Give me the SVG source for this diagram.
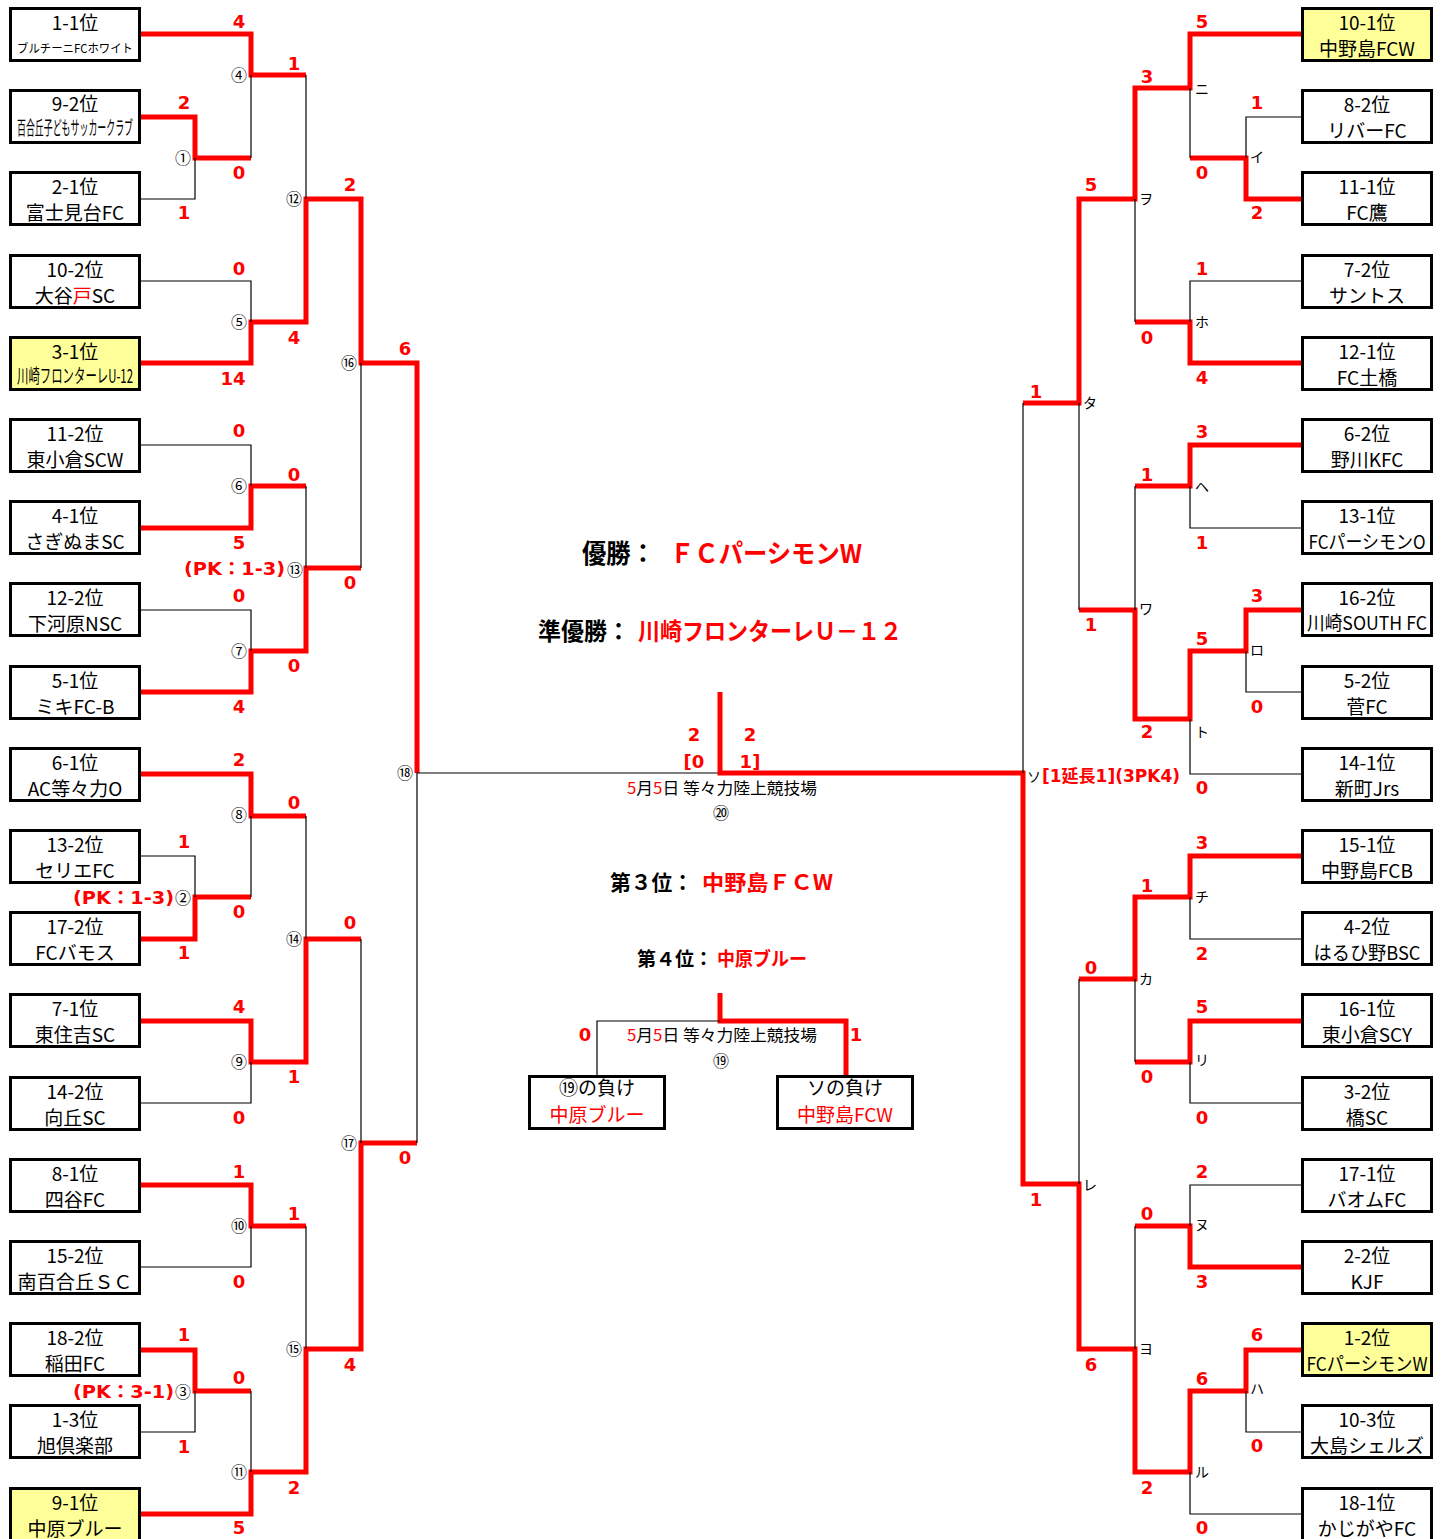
<svg xmlns="http://www.w3.org/2000/svg" width="1443" height="1539" viewBox="0 0 1443 1539">
<style>
.box{fill:#fff;stroke:#000;stroke-width:3}
.hl{fill:#FFFF99}
.t{font-family:"Noto Sans CJK JP","Noto Sans",sans-serif;font-size:19px;text-anchor:middle;fill:#000}
.s{font-size:12px}
.r{fill:#f00}
.red{fill:none;stroke:#f00;stroke-width:5;stroke-linejoin:miter}
.blk{fill:none;stroke:#000;stroke-width:1.2}
.sc{font-family:"DejaVu Sans","Noto Sans CJK JP",sans-serif;font-weight:bold;font-size:18px;fill:#f00;text-anchor:middle}
.pk{font-family:"DejaVu Sans","Noto Sans CJK JP",sans-serif;font-weight:bold;font-size:18px;fill:#f00}
.cn{font-family:"Noto Sans CJK JP",sans-serif;font-size:16px;fill:#000;text-anchor:end}
.kt{font-family:"Noto Sans CJK JP",sans-serif;font-size:14px;fill:#000}
.ttl{font-family:"Noto Sans CJK JP",sans-serif;font-weight:bold}
.ven{font-family:"Noto Sans CJK JP",sans-serif;font-size:16px;text-anchor:middle;fill:#000}
</style>

<g id="connectors">
<path class="red" d="M140,34 H251 V75 H306"/>
<path class="red" d="M140,117 H195 V158 H251"/>
<path class="red" d="M140,363 H251 V322 H306 V199 H361 V363 H417 V773"/>
<path class="red" d="M140,528 H251 V486 H306"/>
<path class="red" d="M140,692 H251 V651 H306 V568 H361"/>
<path class="red" d="M140,774 H251 V816 H306"/>
<path class="red" d="M140,939 H195 V897 H251"/>
<path class="red" d="M140,1021 H251 V1062 H306 V939 H361"/>
<path class="red" d="M140,1185 H251 V1226 H306"/>
<path class="red" d="M140,1350 H195 V1391 H251"/>
<path class="red" d="M140,1514 H251 V1472 H306 V1349 H361 V1143 H417"/>
<path class="blk" d="M140,199 H195 V158"/>
<path class="blk" d="M251,75 V158"/>
<path class="blk" d="M140,281 H251 V322"/>
<path class="blk" d="M306,75 V199"/>
<path class="blk" d="M140,445 H251 V486"/>
<path class="blk" d="M140,610 H251 V651"/>
<path class="blk" d="M306,486 V568"/>
<path class="blk" d="M361,363 V568"/>
<path class="blk" d="M140,856 H195 V897"/>
<path class="blk" d="M251,816 V897"/>
<path class="blk" d="M140,1103 H251 V1062"/>
<path class="blk" d="M306,816 V939"/>
<path class="blk" d="M140,1267 H251 V1226"/>
<path class="blk" d="M140,1432 H195 V1391"/>
<path class="blk" d="M251,1391 V1472"/>
<path class="blk" d="M306,1226 V1349"/>
<path class="blk" d="M361,939 V1143"/>
<path class="blk" d="M417,1143 V773 H720"/>
<path class="red" d="M1302,34 H1190 V88 H1135 V199 H1079 V403 H1023"/>
<path class="red" d="M1302,199 H1246 V158 H1190"/>
<path class="red" d="M1302,363 H1190 V322 H1135"/>
<path class="red" d="M1302,445 H1190 V486 H1135"/>
<path class="red" d="M1302,610 H1246 V651 H1190 V719 H1135 V610 H1079"/>
<path class="red" d="M1302,856 H1190 V897 H1135 V979 H1079"/>
<path class="red" d="M1302,1021 H1190 V1062 H1135"/>
<path class="red" d="M1302,1267 H1190 V1226 H1135"/>
<path class="red" d="M1302,1350 H1246 V1391 H1190 V1472 H1135 V1349 H1079 V1184 H1023 V773 H720 V692"/>
<path class="blk" d="M1302,117 H1246 V158"/>
<path class="blk" d="M1190,88 V158"/>
<path class="blk" d="M1302,281 H1190 V322"/>
<path class="blk" d="M1135,199 V322"/>
<path class="blk" d="M1302,528 H1190 V486"/>
<path class="blk" d="M1302,692 H1246 V651"/>
<path class="blk" d="M1302,774 H1190 V719"/>
<path class="blk" d="M1135,486 V610"/>
<path class="blk" d="M1079,403 V610"/>
<path class="blk" d="M1302,939 H1190 V897"/>
<path class="blk" d="M1302,1103 H1190 V1062"/>
<path class="blk" d="M1135,979 V1062"/>
<path class="blk" d="M1302,1185 H1190 V1226"/>
<path class="blk" d="M1302,1432 H1246 V1391"/>
<path class="blk" d="M1302,1514 H1190 V1472"/>
<path class="blk" d="M1135,1226 V1349"/>
<path class="blk" d="M1079,979 V1184"/>
<path class="blk" d="M1023,403 V773"/>
<path class="red" d="M720,993 V1021 H846 V1075"/>
<path class="blk" d="M720,1021 H597 V1075"/>
</g>

<g id="scores">
<text class="sc" x="239" y="28">4</text>
<text class="sc" x="294" y="70">1</text>
<text class="sc" x="184" y="109">2</text>
<text class="sc" x="239" y="179">0</text>
<text class="sc" x="184" y="219">1</text>
<text class="sc" x="350" y="191">2</text>
<text class="sc" x="239" y="275">0</text>
<text class="sc" x="294" y="344">4</text>
<text class="sc" x="233" y="385">14</text>
<text class="sc" x="405" y="355">6</text>
<text class="sc" x="239" y="437">0</text>
<text class="sc" x="294" y="481">0</text>
<text class="sc" x="239" y="549">5</text>
<text class="sc" x="350" y="589">0</text>
<text class="sc" x="239" y="602">0</text>
<text class="sc" x="294" y="672">0</text>
<text class="sc" x="239" y="713">4</text>
<text class="sc" x="239" y="766">2</text>
<text class="sc" x="294" y="809">0</text>
<text class="sc" x="184" y="848">1</text>
<text class="sc" x="239" y="918">0</text>
<text class="sc" x="350" y="929">0</text>
<text class="sc" x="184" y="959">1</text>
<text class="sc" x="239" y="1013">4</text>
<text class="sc" x="294" y="1083">1</text>
<text class="sc" x="239" y="1124">0</text>
<text class="sc" x="405" y="1164">0</text>
<text class="sc" x="239" y="1178">1</text>
<text class="sc" x="294" y="1220">1</text>
<text class="sc" x="239" y="1288">0</text>
<text class="sc" x="184" y="1341">1</text>
<text class="sc" x="239" y="1384">0</text>
<text class="sc" x="350" y="1371">4</text>
<text class="sc" x="184" y="1453">1</text>
<text class="sc" x="294" y="1494">2</text>
<text class="sc" x="239" y="1534">5</text>

<text class="sc" x="1202" y="28">5</text>
<text class="sc" x="1147" y="83">3</text>
<text class="sc" x="1257" y="109">1</text>
<text class="sc" x="1202" y="179">0</text>
<text class="sc" x="1091" y="191">5</text>
<text class="sc" x="1257" y="219">2</text>
<text class="sc" x="1202" y="275">1</text>
<text class="sc" x="1147" y="344">0</text>
<text class="sc" x="1202" y="384">4</text>
<text class="sc" x="1036" y="398">1</text>
<text class="sc" x="1202" y="438">3</text>
<text class="sc" x="1147" y="481">1</text>
<text class="sc" x="1202" y="549">1</text>
<text class="sc" x="1257" y="602">3</text>
<text class="sc" x="1091" y="631">1</text>
<text class="sc" x="1202" y="645">5</text>
<text class="sc" x="1257" y="713">0</text>
<text class="sc" x="1147" y="738">2</text>
<text class="sc" x="1202" y="794">0</text>
<text class="sc" x="1202" y="849">3</text>
<text class="sc" x="1147" y="892">1</text>
<text class="sc" x="1202" y="960">2</text>
<text class="sc" x="1091" y="974">0</text>
<text class="sc" x="1202" y="1013">5</text>
<text class="sc" x="1147" y="1083">0</text>
<text class="sc" x="1202" y="1124">0</text>
<text class="sc" x="1202" y="1178">2</text>
<text class="sc" x="1036" y="1206">1</text>
<text class="sc" x="1147" y="1220">0</text>
<text class="sc" x="1202" y="1288">3</text>
<text class="sc" x="1257" y="1341">6</text>
<text class="sc" x="1091" y="1371">6</text>
<text class="sc" x="1202" y="1385">6</text>
<text class="sc" x="1257" y="1452">0</text>
<text class="sc" x="1147" y="1494">2</text>
<text class="sc" x="1202" y="1534">0</text>

<text class="sc" x="694" y="741">2</text>
<text class="sc" x="694" y="768">[0</text>
<text class="sc" x="750" y="741">2</text>
<text class="sc" x="750" y="768">1]</text>
<text class="sc" x="585" y="1041">0</text>
<text class="sc" x="856" y="1041">1</text>

<text class="pk" x="184" y="575" textLength="101" lengthAdjust="spacingAndGlyphs">(PK：1-3)</text>
<text class="pk" x="73" y="904" textLength="101" lengthAdjust="spacingAndGlyphs">(PK：1-3)</text>
<text class="pk" x="73" y="1398" textLength="101" lengthAdjust="spacingAndGlyphs">(PK：3-1)</text>
</g>

<g id="match-labels">
<text class="cn" x="191" y="164">①</text>
<text class="cn" x="247" y="81">④</text>
<text class="cn" x="247" y="328">⑤</text>
<text class="cn" x="302" y="205">⑫</text>
<text class="cn" x="247" y="492">⑥</text>
<text class="cn" x="247" y="657">⑦</text>
<text class="cn" x="303" y="576">⑬</text>
<text class="cn" x="357" y="369">⑯</text>
<text class="cn" x="413" y="779">⑱</text>
<text class="cn" x="247" y="821">⑧</text>
<text class="cn" x="191" y="904">②</text>
<text class="cn" x="247" y="1068">⑨</text>
<text class="cn" x="302" y="945">⑭</text>
<text class="cn" x="357" y="1149">⑰</text>
<text class="cn" x="247" y="1232">⑩</text>
<text class="cn" x="191" y="1398">③</text>
<text class="cn" x="247" y="1478">⑪</text>
<text class="cn" x="302" y="1355">⑮</text>

<text class="kt" x="1195" y="94">ニ</text>
<text class="kt" x="1250" y="162">イ</text>
<text class="kt" x="1139" y="204">ヲ</text>
<text class="kt" x="1195" y="327">ホ</text>
<text class="kt" x="1083" y="408">タ</text>
<text class="kt" x="1195" y="492">ヘ</text>
<text class="kt" x="1139" y="614">ワ</text>
<text class="kt" x="1250" y="655">ロ</text>
<text class="kt" x="1195" y="737">ト</text>
<text class="kt" x="1195" y="902">チ</text>
<text class="kt" x="1139" y="984">カ</text>
<text class="kt" x="1195" y="1065">リ</text>
<text class="kt" x="1083" y="1190">レ</text>
<text class="kt" x="1195" y="1230">ヌ</text>
<text class="kt" x="1139" y="1354">ヨ</text>
<text class="kt" x="1250" y="1394">ハ</text>
<text class="kt" x="1195" y="1477">ル</text>
<text class="kt" x="1027" y="782">ソ</text>
<text x="1042" y="782" font-family="DejaVu Sans,Noto Sans CJK JP,sans-serif" font-weight="bold" font-size="17" fill="#f00" textLength="138" lengthAdjust="spacingAndGlyphs">[1延長1](3PK4)</text>

<text class="ven" x="722" y="794" textLength="190" lengthAdjust="spacingAndGlyphs"><tspan class="r">5</tspan>月<tspan class="r">5</tspan>日 等々力陸上競技場</text>
<text class="cn" x="729" y="819">⑳</text>
<text class="ven" x="722" y="1041" textLength="190" lengthAdjust="spacingAndGlyphs"><tspan class="r">5</tspan>月<tspan class="r">5</tspan>日 等々力陸上競技場</text>
<text class="cn" x="729" y="1067">⑲</text>
</g>

<g id="results">
<text class="ttl" x="582" y="563" font-size="26" textLength="73" lengthAdjust="spacingAndGlyphs">優勝：</text>
<text class="ttl r" x="670" y="563" font-size="26" textLength="192" lengthAdjust="spacingAndGlyphs">ＦＣパーシモンW</text>
<text class="ttl" x="538" y="640" font-size="24" textLength="92" lengthAdjust="spacingAndGlyphs">準優勝：</text>
<text class="ttl r" x="638" y="640" font-size="24" textLength="264" lengthAdjust="spacingAndGlyphs">川崎フロンターレＵ－１２</text>
<text class="ttl" x="610" y="890" font-size="21" textLength="83" lengthAdjust="spacingAndGlyphs">第３位：</text>
<text class="ttl r" x="702" y="890" font-size="21" textLength="131" lengthAdjust="spacingAndGlyphs">中野島ＦＣW</text>
<text class="ttl" x="637" y="966" font-size="19" textLength="76" lengthAdjust="spacingAndGlyphs">第４位：</text>
<text class="ttl r" x="717" y="966" font-size="19" textLength="90" lengthAdjust="spacingAndGlyphs">中原ブルー</text>
</g>

<g id="node-l0"><rect class="box" x="10.5" y="8.5" width="129" height="52"/><text class="t" x="75" y="30">1-1位</text><text class="t s" x="75" y="53" textLength="116" lengthAdjust="spacingAndGlyphs">ブルチーニFCホワイト</text></g>
<g id="node-l1"><rect class="box" x="10.5" y="90.5" width="129" height="52"/><text class="t" x="75" y="111">9-2位</text><text class="t" x="75" y="135" font-size="10" textLength="116" lengthAdjust="spacingAndGlyphs">百合丘子どもサッカークラブ</text></g>
<g id="node-l2"><rect class="box" x="10.5" y="172.5" width="129" height="52"/><text class="t" x="75" y="194">2-1位</text><text class="t" x="75" y="220">富士見台FC</text></g>
<g id="node-l3"><rect class="box" x="10.5" y="255.5" width="129" height="52"/><text class="t" x="75" y="277">10-2位</text><text class="t" x="75" y="303">大谷<tspan class="r">戸</tspan>SC</text></g>
<g id="node-l4"><rect class="box hl" x="10.5" y="337.5" width="129" height="52"/><text class="t" x="75" y="359">3-1位</text><text class="t" x="75" y="383" font-size="12.5" textLength="116" lengthAdjust="spacingAndGlyphs">川崎フロンターレU-12</text></g>
<g id="node-l5"><rect class="box" x="10.5" y="419.5" width="129" height="52"/><text class="t" x="75" y="441">11-2位</text><text class="t" x="75" y="467">東小倉SCW</text></g>
<g id="node-l6"><rect class="box" x="10.5" y="501.5" width="129" height="52"/><text class="t" x="75" y="523">4-1位</text><text class="t" x="75" y="549">さぎぬまSC</text></g>
<g id="node-l7"><rect class="box" x="10.5" y="583.5" width="129" height="52"/><text class="t" x="75" y="605">12-2位</text><text class="t" x="75" y="631">下河原NSC</text></g>
<g id="node-l8"><rect class="box" x="10.5" y="666.5" width="129" height="52"/><text class="t" x="75" y="688">5-1位</text><text class="t" x="75" y="714">ミキFC-B</text></g>
<g id="node-l9"><rect class="box" x="10.5" y="748.5" width="129" height="52"/><text class="t" x="75" y="770">6-1位</text><text class="t" x="75" y="796">AC等々力O</text></g>
<g id="node-l10"><rect class="box" x="10.5" y="830.5" width="129" height="52"/><text class="t" x="75" y="852">13-2位</text><text class="t" x="75" y="878">セリエFC</text></g>
<g id="node-l11"><rect class="box" x="10.5" y="912.5" width="129" height="52"/><text class="t" x="75" y="934">17-2位</text><text class="t" x="75" y="960">FCバモス</text></g>
<g id="node-l12"><rect class="box" x="10.5" y="994.5" width="129" height="52"/><text class="t" x="75" y="1016">7-1位</text><text class="t" x="75" y="1042">東住吉SC</text></g>
<g id="node-l13"><rect class="box" x="10.5" y="1077.5" width="129" height="52"/><text class="t" x="75" y="1099">14-2位</text><text class="t" x="75" y="1125">向丘SC</text></g>
<g id="node-l14"><rect class="box" x="10.5" y="1159.5" width="129" height="52"/><text class="t" x="75" y="1181">8-1位</text><text class="t" x="75" y="1207">四谷FC</text></g>
<g id="node-l15"><rect class="box" x="10.5" y="1241.5" width="129" height="52"/><text class="t" x="75" y="1263">15-2位</text><text class="t" x="75" y="1289" textLength="115" lengthAdjust="spacingAndGlyphs">南百合丘ＳＣ</text></g>
<g id="node-l16"><rect class="box" x="10.5" y="1323.5" width="129" height="52"/><text class="t" x="75" y="1345">18-2位</text><text class="t" x="75" y="1371">稲田FC</text></g>
<g id="node-l17"><rect class="box" x="10.5" y="1405.5" width="129" height="52"/><text class="t" x="75" y="1427">1-3位</text><text class="t" x="75" y="1453">旭倶楽部</text></g>
<g id="node-l18"><rect class="box hl" x="10.5" y="1488.5" width="129" height="52"/><text class="t" x="75" y="1510">9-1位</text><text class="t" x="75" y="1536">中原ブルー</text></g>

<g id="node-r0"><rect class="box hl" x="1302.5" y="8.5" width="129" height="52"/><text class="t" x="1367" y="30">10-1位</text><text class="t" x="1367" y="56">中野島FCW</text></g>
<g id="node-r1"><rect class="box" x="1302.5" y="90.5" width="129" height="52"/><text class="t" x="1367" y="112">8-2位</text><text class="t" x="1367" y="138">リバーFC</text></g>
<g id="node-r2"><rect class="box" x="1302.5" y="172.5" width="129" height="52"/><text class="t" x="1367" y="194">11-1位</text><text class="t" x="1367" y="220">FC鷹</text></g>
<g id="node-r3"><rect class="box" x="1302.5" y="255.5" width="129" height="52"/><text class="t" x="1367" y="277">7-2位</text><text class="t" x="1367" y="303">サントス</text></g>
<g id="node-r4"><rect class="box" x="1302.5" y="337.5" width="129" height="52"/><text class="t" x="1367" y="359">12-1位</text><text class="t" x="1367" y="385">FC土橋</text></g>
<g id="node-r5"><rect class="box" x="1302.5" y="419.5" width="129" height="52"/><text class="t" x="1367" y="441">6-2位</text><text class="t" x="1367" y="467">野川KFC</text></g>
<g id="node-r6"><rect class="box" x="1302.5" y="501.5" width="129" height="52"/><text class="t" x="1367" y="523">13-1位</text><text class="t" x="1367" y="549" textLength="117" lengthAdjust="spacingAndGlyphs">FCパーシモンO</text></g>
<g id="node-r7"><rect class="box" x="1302.5" y="583.5" width="129" height="52"/><text class="t" x="1367" y="605">16-2位</text><text class="t" x="1367" y="630" font-size="17" textLength="120" lengthAdjust="spacingAndGlyphs">川崎SOUTH FC</text></g>
<g id="node-r8"><rect class="box" x="1302.5" y="666.5" width="129" height="52"/><text class="t" x="1367" y="688">5-2位</text><text class="t" x="1367" y="714">菅FC</text></g>
<g id="node-r9"><rect class="box" x="1302.5" y="748.5" width="129" height="52"/><text class="t" x="1367" y="770">14-1位</text><text class="t" x="1367" y="796">新町Jrs</text></g>
<g id="node-r10"><rect class="box" x="1302.5" y="830.5" width="129" height="52"/><text class="t" x="1367" y="852">15-1位</text><text class="t" x="1367" y="878">中野島FCB</text></g>
<g id="node-r11"><rect class="box" x="1302.5" y="912.5" width="129" height="52"/><text class="t" x="1367" y="934">4-2位</text><text class="t" x="1367" y="960" textLength="107" lengthAdjust="spacingAndGlyphs">はるひ野BSC</text></g>
<g id="node-r12"><rect class="box" x="1302.5" y="994.5" width="129" height="52"/><text class="t" x="1367" y="1016">16-1位</text><text class="t" x="1367" y="1042">東小倉SCY</text></g>
<g id="node-r13"><rect class="box" x="1302.5" y="1077.5" width="129" height="52"/><text class="t" x="1367" y="1099">3-2位</text><text class="t" x="1367" y="1125">橋SC</text></g>
<g id="node-r14"><rect class="box" x="1302.5" y="1159.5" width="129" height="52"/><text class="t" x="1367" y="1181">17-1位</text><text class="t" x="1367" y="1207">バオムFC</text></g>
<g id="node-r15"><rect class="box" x="1302.5" y="1241.5" width="129" height="52"/><text class="t" x="1367" y="1263">2-2位</text><text class="t" x="1367" y="1289">KJF</text></g>
<g id="node-r16"><rect class="box hl" x="1302.5" y="1323.5" width="129" height="52"/><text class="t" x="1367" y="1345">1-2位</text><text class="t" x="1367" y="1371" textLength="121" lengthAdjust="spacingAndGlyphs">FCパーシモンW</text></g>
<g id="node-r17"><rect class="box" x="1302.5" y="1405.5" width="129" height="52"/><text class="t" x="1367" y="1427">10-3位</text><text class="t" x="1367" y="1453">大島シェルズ</text></g>
<g id="node-r18"><rect class="box" x="1302.5" y="1488.5" width="129" height="52"/><text class="t" x="1367" y="1510">18-1位</text><text class="t" x="1367" y="1536">かじがやFC</text></g>

<g id="node-loser19"><rect class="box" x="529.5" y="1076.5" width="135" height="52"/><text class="t" x="597" y="1095">⑲の負け</text><text class="t r" x="597" y="1122">中原ブルー</text></g>
<g id="node-loserSo"><rect class="box" x="777.5" y="1076.5" width="135" height="52"/><text class="t" x="845" y="1095">ソの負け</text><text class="t r" x="845" y="1122">中野島FCW</text></g>
</svg>
